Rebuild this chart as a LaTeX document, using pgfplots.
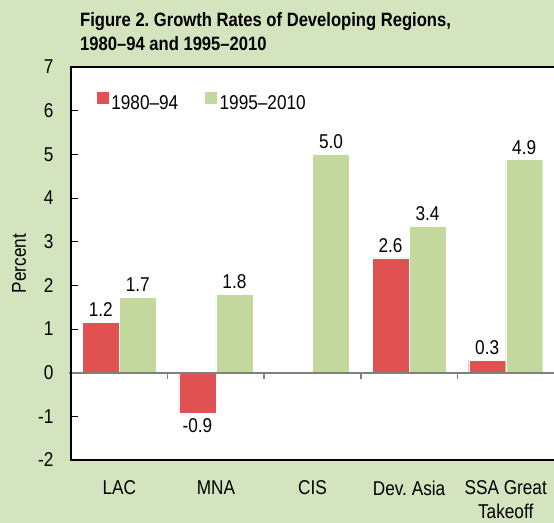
\documentclass[border=0pt]{standalone}
\usepackage{fontspec}
\setmainfont{Liberation Sans}[FakeStretch=0.86]
\usepackage{pgfplots}
\pgfplotsset{compat=1.18}
\frenchspacing
\definecolor{bg}{RGB}{212,228,190}
\definecolor{redbar}{RGB}{224,82,82}
\definecolor{greenbar}{RGB}{194,216,156}
\definecolor{zeroline}{RGB}{128,128,128}
\newcommand{\lblfont}{\fontsize{20bp}{24bp}\selectfont}
\begin{document}
\begin{tikzpicture}
\fill[bg] (-71bp,-63bp) rectangle (483bp,460bp);
\useasboundingbox (-71bp,-63bp) rectangle (483bp,460bp);
\begin{axis}[
  at={(0,0)}, anchor=south west,
  width=483bp, height=393bp, scale only axis,
  xmin=-0.5, xmax=4.5, ymin=-2, ymax=7,
  axis background/.style={fill=white},
  axis line style={draw=none},
  ybar=0pt, bar width=37bp,
  xtick={0,1,2,3,4},
  xticklabels={LAC,MNA,CIS,Dev.\ Asia,{SSA Great\\Takeoff}},
  xticklabel style={align=center, font=\lblfont, yshift=-17bp},
  x tick style={draw=none},
  ytick={-2,-1,0,1,2,3,4,5,6,7},
  ytick pos=left,
  tick align=inside, major tick length=7bp,
  y tick style={black, line width=1bp},
  yticklabel style={font=\lblfont, xshift=-14bp},
  /pgf/number format/assume math mode=true,
  ylabel={Percent},
  every axis y label/.style={at={(rel axis cs:0,0.5)}, xshift=-52bp, rotate=90, anchor=center, font=\lblfont},
  nodes near coords={\pgfmathprintnumber[fixed,fixed zerofill,precision=1,assume math mode=true]{\pgfplotspointmeta}},
  every node near coord/.append style={font=\lblfont, black, inner sep=5bp},
  point meta=explicit,
  legend columns=2,
  legend style={at={(0.045,0.945)}, anchor=north west, draw=none, fill=none,
    font=\lblfont,
    /tikz/every even column/.append style={column sep=24bp}},
  legend image code/.code={\fill[#1] (0bp,-1bp) rectangle (13bp,12bp);},
  clip=false,
]
\addplot[fill=redbar, draw=white, line width=0.4bp] coordinates {
  (0,1.16) [1.2]
  (1,-0.93) [-0.9]
  (3,2.63) [2.6]
  (4,0.29) [0.3]
};
\addlegendentry{1980--94}
\addplot[fill=greenbar, draw=white, line width=0.4bp] coordinates {
  (0,1.73) [1.7]
  (1,1.80) [1.8]
  (2,5.01) [5.0]
  (3,3.35) [3.4]
  (4,4.88) [4.9]
};
\addlegendentry{1995--2010}
\draw[zeroline, line width=2bp] ([xshift=-2bp]axis cs:-0.5,0) -- (axis cs:4.5,0);
\draw[zeroline, line width=1.5bp] (axis cs:-0.5,0) -- ++(0pt,-6bp);
\draw[zeroline, line width=1.5bp] (axis cs:0.5,0) -- ++(0pt,-6bp);
\draw[zeroline, line width=1.5bp] (axis cs:1.5,0) -- ++(0pt,-6bp);
\draw[zeroline, line width=1.5bp] (axis cs:2.5,0) -- ++(0pt,-6bp);
\draw[zeroline, line width=1.5bp] (axis cs:3.5,0) -- ++(0pt,-6bp);
\draw[black, line width=1.5bp] (rel axis cs:1,1) -- (rel axis cs:0,1) -- (rel axis cs:0,0) -- (rel axis cs:1,0);
\end{axis}
\node[anchor=base west, inner sep=0pt, font=\bfseries\fontsize{19.3bp}{24bp}\selectfont] at (9bp,433.3bp) {Figure 2. Growth Rates of Developing Regions,};
\node[anchor=base west, inner sep=0pt, font=\bfseries\fontsize{19.3bp}{24bp}\selectfont] at (9bp,409bp) {1980--94 and 1995--2010};
\end{tikzpicture}
\end{document}
